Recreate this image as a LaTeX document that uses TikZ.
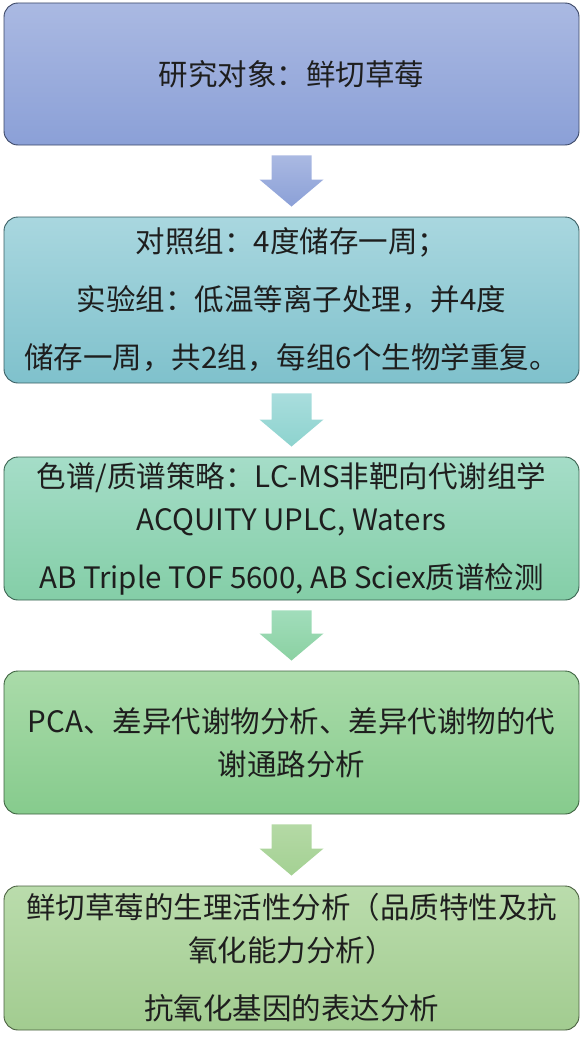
\documentclass[tikz,border=0pt]{standalone}
\usepackage{fontspec}
\setmainfont{Noto Sans CJK SC}
\usetikzlibrary{calc}
\definecolor{txt}{HTML}{1E1E1E}
\definecolor{c1t}{HTML}{AAB9E2}\definecolor{c1b}{HTML}{8BA0D7}\definecolor{c1d}{HTML}{3B4766}
\definecolor{c2t}{HTML}{A9D7DF}\definecolor{c2b}{HTML}{7FC1CC}\definecolor{c2d}{HTML}{3A5E63}
\definecolor{c3t}{HTML}{A5DDC8}\definecolor{c3b}{HTML}{84CEA7}\definecolor{c3d}{HTML}{3A6250}
\definecolor{c4t}{HTML}{AADBA9}\definecolor{c4b}{HTML}{86CB8D}\definecolor{c4d}{HTML}{3D6240}
\definecolor{c5t}{HTML}{BADCAC}\definecolor{c5b}{HTML}{A2CC90}\definecolor{c5d}{HTML}{4A6040}
\definecolor{a1t}{HTML}{AAB9E2}\definecolor{a1b}{HTML}{8BA0D7}
\definecolor{a2t}{HTML}{A9DDDD}\definecolor{a2b}{HTML}{8DD3CE}
\definecolor{a3t}{HTML}{A1DDBB}\definecolor{a3b}{HTML}{8BD1A2}
\definecolor{a4t}{HTML}{B4D9A5}\definecolor{a4b}{HTML}{A4D193}
\begin{document}
\begin{tikzpicture}[x=1pt,y=-1pt,
  box/.style={rounded corners=14pt, minimum width=575pt, line width=0.9pt,
    align=center, font=\fontsize{29.5}{43}\selectfont, text=txt, inner sep=0pt}]
\useasboundingbox (0,0) rectangle (585,1057);
\node[box, minimum height=142pt, top color=c1t, bottom color=c1b, draw=c1d] (b1) at (291.5,74)
  {研究对象：鲜切草莓};
\node[box, minimum height=166pt, top color=c2t, bottom color=c2b, draw=c2d] (b2) at (291.5,300)
  {对照组：4度储存一周；\\[15pt]实验组：低温等离子处理，并4度\\[15pt]储存一周，共2组，每组6个生物学重复。};
\node[box, minimum height=143pt, top color=c3t, bottom color=c3b, draw=c3d] (b3) at (291.5,528.5)
  {色谱/质谱策略：LC-MS非靶向代谢组学\\ACQUITY UPLC, Waters\\[15pt]AB Triple TOF 5600, AB Sciex质谱检测};
\node[box, minimum height=143pt, top color=c4t, bottom color=c4b, draw=c4d] (b4) at (291.5,742.5)
  {PCA、差异代谢物分析、差异代谢物的代\\谢通路分析};
\node[box, minimum height=144pt, top color=c5t, bottom color=c5b, draw=c5d] (b5) at (291.5,958)
  {鲜切草莓的生理活性分析（品质特性及抗\\氧化能力分析）\\[15pt]抗氧化基因的表达分析};
\foreach \ua/\va/\ca/\cb in {b1/b2/a1t/a1b, b2/b3/a2t/a2b, b3/b4/a3t/a3b, b4/b5/a4t/a4b}
  \path[top color=\ca, bottom color=\cb] let \p1=(\ua.south), \p2=(\va.north) in
    (\x1-20pt,\y1-10pt) -- (\x1+20pt,\y1-10pt) -- (\x1+20pt,\y2+37pt) -- (\x1+32pt,\y2+37pt)
    -- (\x1,\y2+10pt) -- (\x1-32pt,\y2+37pt) -- (\x1-20pt,\y2+37pt) -- cycle;
\end{tikzpicture}
\end{document}
